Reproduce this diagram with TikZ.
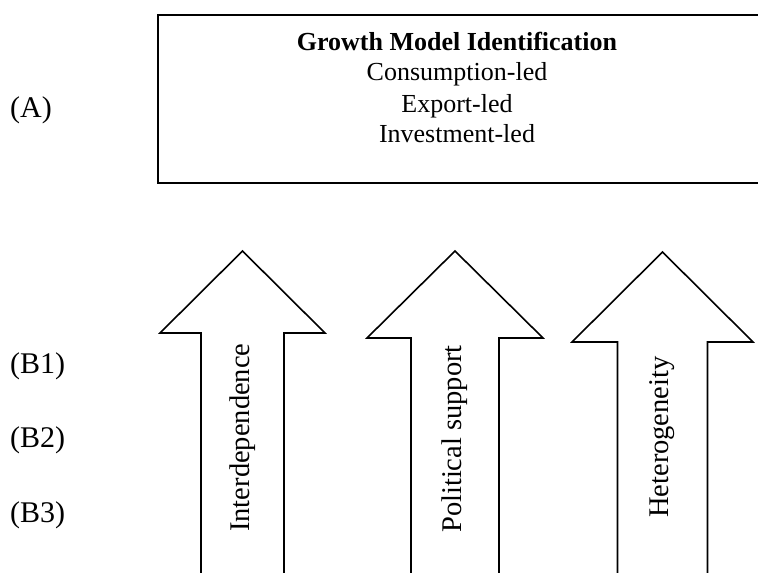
\documentclass[tikz,border=0pt]{standalone}
\usepackage{fontspec}
\setmainfont{Liberation Serif}
\usetikzlibrary{positioning}
\tikzset{
    panel/.style={draw, line width=1.2pt},
    fatarrow/.style={draw, line width=1.6pt, line join=miter},
    boxtext/.style={inner sep=0pt, anchor=base, font=\fontsize{26}{30}\selectfont},
    rowlabel/.style={inner sep=0pt, anchor=base west, font=\fontsize{30}{36}\selectfont},
    arrowtext/.style={inner sep=0pt, anchor=west, rotate=90, font=\fontsize{28.5}{34}\selectfont},
}
\begin{document}
\begin{tikzpicture}[x=1pt,y=-1pt]
\useasboundingbox (0,0) rectangle (758,573);
% growth model box, its right side runs off the page
\draw[panel] (770,15) -- (158,15) -- (158,183) -- (770,183);
\node[boxtext, font=\bfseries\fontsize{26}{30}\selectfont] (title) at (457,50) {Growth Model Identification};
\foreach \name/\txt/\y in {cons/Consumption-led/80, expo/Export-led/112, inv/Investment-led/142}
    \node[boxtext] (\name) at (457,\y) {\txt};
% row labels
\node[rowlabel] (A) at (10,117) {(A)};
\foreach \lab/\y in {B1/373, B2/447, B3/522}
    \node[rowlabel] (\lab) at (10,\y) {(\lab)};
% block arrows, open at the bottom
\foreach \cx/\tip/\base/\head/\shaft/\name/\txt/\ty in {
    242.5/251/333/82.5/41.5/inter/Interdependence/532,
    455/251/338/88/44/polit/Political support/533,
    662.5/252/342/90.5/45/hetero/Heterogeneity/518}{
    \draw[fatarrow] (\cx-\shaft,580) -- (\cx-\shaft,\base) -- (\cx-\head,\base) -- (\cx,\tip)
        -- (\cx+\head,\base) -- (\cx+\shaft,\base) -- (\cx+\shaft,580);
    \node[arrowtext] (\name) at (\cx,\ty) {\txt};
}
\end{tikzpicture}
\end{document}
